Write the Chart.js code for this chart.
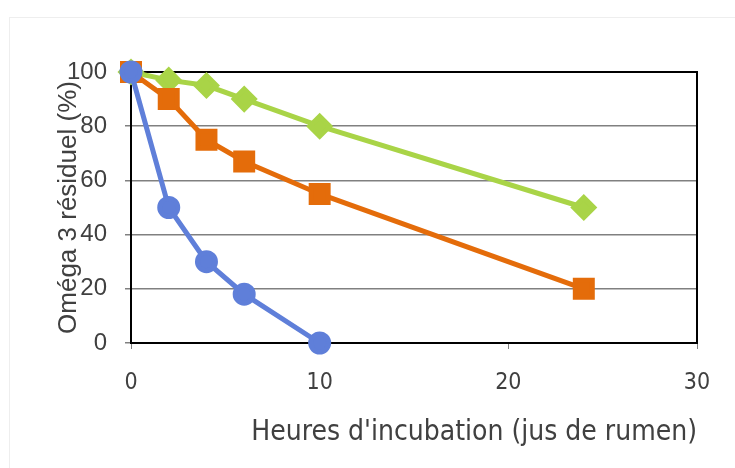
<!DOCTYPE html>
<html>
<head>
<meta charset="utf-8">
<script src="https://cdn.jsdelivr.net/npm/chart.js@4"></script>
<style>
  html, body {margin: 0; padding: 0; background: #fff;}
  #wrap {position: relative; width: 735px; height: 468px; overflow: hidden;}
  #frame {position: absolute; left: 9px; top: 17px; width: 760px; height: 480px; border: 1px solid #eeeeee;}
  canvas {position: absolute; left: 0; top: 0;}
</style>
</head>
<body>
<div id="wrap">
  <div id="frame"></div>
  <canvas id="graphique" width="735" height="468"></canvas>
</div>
<script>
// heures d'incubation
const heures = [0, 2, 4, 6, 10, 24];

const serieBleue = [100, 50, 30, 18, 0];
const serieOrange = [100, 90, 75, 67, 55, 20];
const serieVerte = [100, 97, 95, 90, 80, 50];

const ticksX = [0, 10, 20, 30];
const ticksY = [0, 20, 40, 60, 80, 100];

const points = (vals) => vals.map((v, i) => ({x: heures[i], y: v}));

const policeEtroite = "'DejaVu Sans Condensed', 'Liberation Sans', sans-serif";

const ctx = document.getElementById('graphique').getContext('2d');

new Chart(ctx, {
    type: 'line',
    data: {
        datasets: [{
            data: points(serieBleue),
            borderColor: '#5F7FD9',
            backgroundColor: '#5F7FD9',
            borderWidth: 5,
            pointStyle: 'circle',
            pointRadius: 9,
            clip: false
        }, {
            data: points(serieOrange),
            borderColor: '#E46C0A',
            backgroundColor: '#E46C0A',
            borderWidth: 5,
            pointStyle: 'rect',
            pointRadius: 12,
            clip: false
        }, {
            data: points(serieVerte),
            borderColor: '#A9D447',
            backgroundColor: '#A9D447',
            borderWidth: 5,
            pointStyle: 'rectRot',
            pointRadius: 10,
            clip: false
        }]
    },
    options: {
        responsive: false,
        animation: false,
        layout: {padding: {left: 49, top: 72, right: 38, bottom: 0}},
        plugins: {legend: {display: false}, tooltip: {enabled: false}},
        elements: {line: {tension: 0}, point: {borderWidth: 0}},
        scales: {
            x: {
                type: 'linear',
                min: 0,
                max: 30,
                afterBuildTicks: s => { s.ticks = ticksX.map(v => ({value: v})); },
                afterFit: s => { s.height = 125; },
                grid: {drawOnChartArea: false, drawTicks: true, tickLength: 6, tickColor: '#808080'},
                border: {color: '#000', width: 2},
                ticks: {color: '#404040', padding: 20, font: {family: policeEtroite, size: 23}},
                title: {
                    display: true,
                    text: "Heures d'incubation (jus de rumen)",
                    align: 'end',
                    color: '#404040',
                    padding: {top: 0, bottom: 18},
                    font: {family: policeEtroite, size: 28}
                }
            },
            y: {
                min: 0,
                max: 100,
                afterBuildTicks: s => { s.ticks = ticksY.map(v => ({value: v})); },
                afterFit: s => { s.width = 82; },
                grid: {color: '#808080', lineWidth: 1.5, tickLength: 6, tickColor: '#808080'},
                border: {color: '#000', width: 2},
                ticks: {color: '#404040', padding: 18, font: {family: 'Liberation Sans', size: 24}},
                title: {
                    display: true,
                    text: 'Oméga 3 résiduel (%)',
                    color: '#404040',
                    padding: {top: 4, bottom: 0},
                    font: {family: 'Liberation Sans', size: 26}
                }
            }
        }
    },
    plugins: [{
        id: 'cadre',
        beforeDatasetsDraw(chart) {
            // bordure haute et droite de la zone de tracé
            const {ctx, chartArea: a} = chart;
            ctx.save();
            ctx.strokeStyle = '#000';
            ctx.lineWidth = 2;
            ctx.beginPath();
            ctx.moveTo(a.left, a.top);
            ctx.lineTo(a.right, a.top);
            ctx.lineTo(a.right, a.bottom);
            ctx.stroke();
            ctx.restore();
        }
    }]
});
</script>
</body>
</html>
